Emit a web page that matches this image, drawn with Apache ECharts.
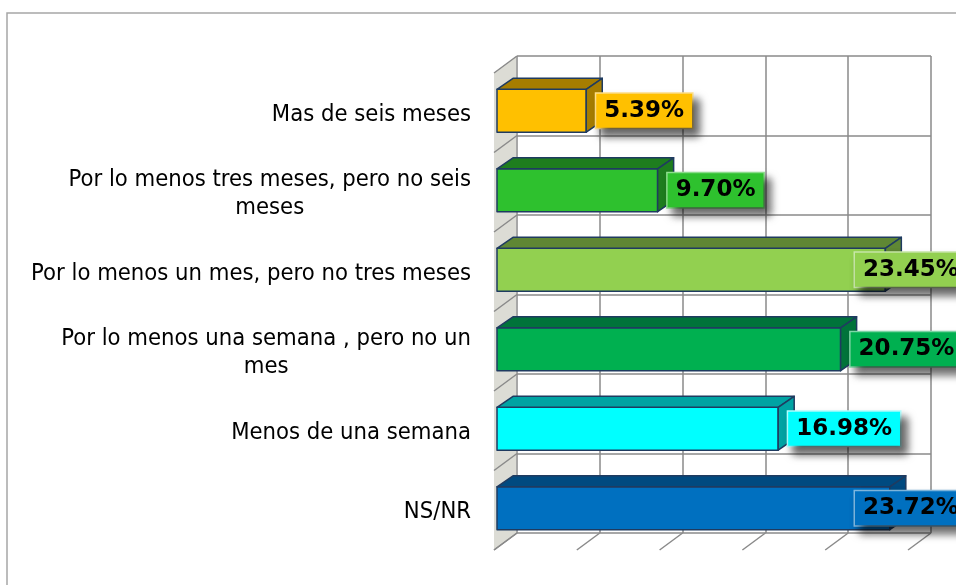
<!DOCTYPE html>
<html>
<head>
<meta charset="utf-8">
<script src="https://cdn.jsdelivr.net/npm/echarts@6/dist/echarts.min.js"></script>
<style>
  html, body { margin: 0; padding: 0; background: #fff; }
  #chart { width: 956px; height: 585px; }
</style>
</head>
<body>
<div id="chart"></div>
<script>
// data
let categories = [
    'Mas de seis meses',
    'Por lo menos tres meses, pero no seis\nmeses',
    'Por lo menos un mes, pero no tres meses',
    'Por lo menos una semana , pero no un\nmes',
    'Menos de una semana',
    'NS/NR'
];
let values = [5.39, 9.70, 23.45, 20.75, 16.98, 23.72];
let x_ticks = [0, 5, 10, 15, 20, 25];

// colours
let front_color = ['#FFC000', '#2EC12E', '#92D050', '#00B050', '#00FFFF', '#0070C0'];
let top_color = ['#A67D00', '#1E7D1E', '#5F8734', '#00733A', '#00A3A3', '#004A80'];
let label_border = ['#FFE08A', '#8FE08F', '#C8E8A8', '#7FD8A8', '#B0FFFF', '#7FB8E0'];

let CAT_FONT = '23.6px "DejaVu Sans Condensed", "DejaVu Sans", sans-serif';
let LBL_FONT = 'bold 23px "DejaVu Sans", sans-serif';
let DX = 23, DY = 17;      // depth of the walls
let BDX = 16, BDY = 11;    // depth of the bars

let measure_ctx = document.createElement('canvas').getContext('2d');
function text_width(txt, font) {
    measure_ctx.font = font;
    let w = 0;
    txt.split('\n').forEach(function (line) {
        w = Math.max(w, measure_ctx.measureText(line).width);
    });
    return w;
}

let myChart = echarts.init(document.getElementById('chart'));

let option = {
    animation: false,
    grid: [
        {left: 494, top: 73, width: 414, height: 477},   // front plane
        {left: 517, top: 56, width: 414, height: 477}    // back wall
    ],
    xAxis: [
        {gridIndex: 0, type: 'value', min: 0, max: 25, interval: 5, show: false},
        {
            gridIndex: 1, type: 'value', min: 0, max: 25, interval: 5,
            axisLine: {show: false}, axisTick: {show: false}, axisLabel: {show: false},
            splitLine: {show: true, lineStyle: {color: '#8a8a8a', width: 1.5}}
        }
    ],
    yAxis: [
        {gridIndex: 0, type: 'category', data: categories, inverse: true, show: false},
        {
            gridIndex: 1, type: 'category', data: categories, inverse: true,
            axisLine: {show: false}, axisTick: {show: false}, axisLabel: {show: false},
            splitLine: {show: true, interval: 0, lineStyle: {color: '#8a8a8a', width: 1.5}}
        }
    ],
    graphic: [
        {
            type: 'rect', z: -10,
            shape: {x: 7, y: 13, width: 1000, height: 1000},
            style: {fill: 'none', stroke: '#a6a6a6', lineWidth: 1.5}
        }
    ],
    series: [
        {
            // left wall and floor
            type: 'custom',
            xAxisIndex: 0, yAxisIndex: 0,
            silent: true,
            z: 1,
            data: [[0, 0]],
            renderItem: function (params, api) {
                let band = api.size([0, 1])[1];
                let p_first = api.coord([0, 0]);
                let p_last = api.coord([0, categories.length - 1]);
                let x0 = p_first[0];
                let top = p_first[1] - band / 2;
                let bottom = p_last[1] + band / 2;
                let children = [{
                    type: 'polygon',
                    shape: {points: [[x0, top], [x0 + DX - 1, top - DY], [x0 + DX - 1, bottom - DY], [x0, bottom]]},
                    style: {fill: '#dcdcd5'}
                }];
                for (let k = 0; k <= categories.length; k++) {
                    let y = top + k * band;
                    children.push({
                        type: 'line',
                        shape: {x1: x0, y1: y, x2: x0 + DX, y2: y - DY},
                        style: {stroke: '#8a8a8a', lineWidth: 1.5}
                    });
                }
                x_ticks.forEach(function (v) {
                    let x = api.coord([v, 0])[0];
                    children.push({
                        type: 'line',
                        shape: {x1: x, y1: bottom, x2: x + DX, y2: bottom - DY},
                        style: {stroke: '#8a8a8a', lineWidth: 1.5}
                    });
                });
                return {type: 'group', children: children};
            }
        },
        {
            // 3d bars with labels
            type: 'custom',
            xAxisIndex: 0, yAxisIndex: 0,
            z: 3,
            data: values.map(function (v, i) { return [v, i]; }),
            renderItem: function (params, api) {
                let v = api.value(0);
                let i = api.value(1);
                let band = api.size([0, 1])[1];
                let p0 = api.coord([0, i]);
                let p1 = api.coord([v, i]);
                let h = band * 0.54;
                let x0 = p0[0] + 3;
                let x1 = p1[0] + 3;
                let yc = p0[1] - 2;
                let yt = yc - h / 2;
                let yb = yc + h / 2;
                let edge = {stroke: '#1F3B60', lineWidth: 1.5, lineJoin: 'round'};
                let lbl = v.toFixed(2) + '%';
                let label_x = Math.min(x1 + 10, api.getWidth() - 101);

                // category text left of the wall
                let cat = categories[i];
                let cw = text_width(cat, CAT_FONT);
                let cat_x = p0[0] - 23 - cw / 2;

                return {
                    type: 'group',
                    children: [
                        {
                            type: 'rect',
                            shape: {x: x0, y: yt, width: x1 - x0, height: h},
                            style: Object.assign({fill: front_color[i]}, edge)
                        },
                        {
                            type: 'polygon',
                            shape: {points: [[x0, yt], [x0 + BDX, yt - BDY], [x1 + BDX, yt - BDY], [x1, yt]]},
                            style: Object.assign({fill: top_color[i]}, edge)
                        },
                        {
                            type: 'polygon',
                            shape: {points: [[x1, yt], [x1 + BDX, yt - BDY], [x1 + BDX, yb - BDY], [x1, yb]]},
                            style: Object.assign({fill: top_color[i]}, edge)
                        },
                        {
                            type: 'text',
                            z2: 10,
                            style: {
                                text: lbl,
                                x: label_x, y: yc,
                                align: 'left', verticalAlign: 'middle',
                                font: LBL_FONT,
                                fill: '#000',
                                backgroundColor: front_color[i],
                                borderColor: label_border[i],
                                borderWidth: 1.5,
                                padding: [6, 8, 5, 8],
                                shadowBlur: 8,
                                shadowColor: 'rgba(0,0,0,0.6)',
                                shadowOffsetX: 6,
                                shadowOffsetY: 7
                            }
                        },
                        {
                            type: 'text',
                            style: {
                                text: cat,
                                x: cat_x, y: p0[1] + 2,
                                align: 'center', verticalAlign: 'middle',
                                font: CAT_FONT,
                                lineHeight: 28,
                                fill: '#000'
                            }
                        }
                    ]
                };
            }
        }
    ]
};

myChart.setOption(option);
</script>
</body>
</html>
